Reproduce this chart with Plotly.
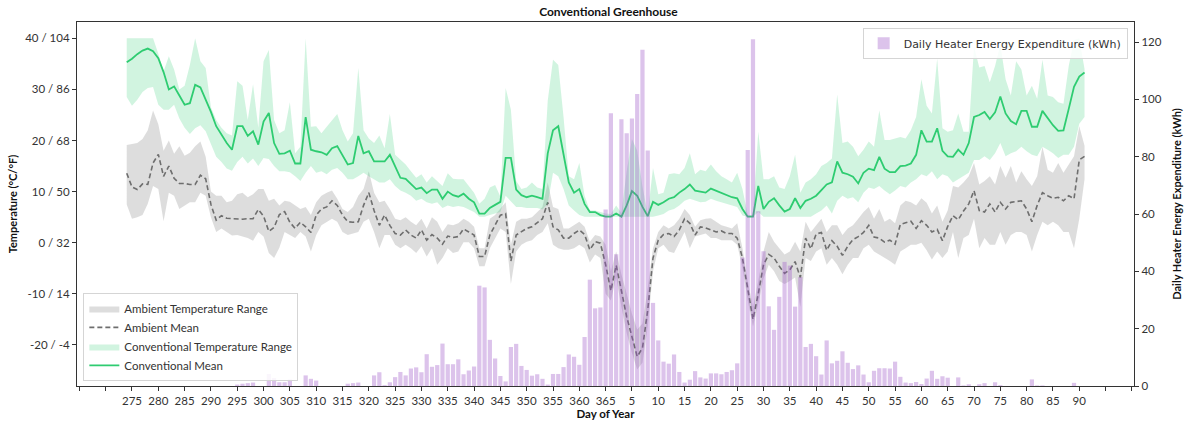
import plotly.graph_objects as go

# Day-of-year sequence (Oct 1 .. Apr 1)
days = list(range(274, 366)) + list(range(1, 92))

conv_mean = [
    35.3, 36.0, 36.9, 37.6, 38.0, 37.5, 36.1, 33.4, 30.0, 30.6,
    28.8, 27.0, 27.3, 30.9, 30.4, 28.1, 25.6, 22.8, 21.1, 19.5,
    18.2, 22.8, 22.8, 20.9, 21.8, 19.2, 23.7, 25.4, 19.5, 17.4,
    17.5, 18.0, 15.5, 15.5, 24.6, 18.2, 17.9, 17.7, 17.2, 18.5,
    18.9, 17.2, 15.3, 15.6, 20.9, 17.5, 17.9, 15.9, 15.9, 15.9,
    17.2, 15.0, 12.7, 12.5, 11.4, 10.5, 10.8, 9.7, 10.4, 10.4,
    8.6, 10.0, 9.3, 9.0, 9.6, 8.6, 7.9, 5.7, 5.7, 6.8,
    7.4, 8.0, 16.6, 16.6, 10.4, 9.3, 8.9, 9.2, 8.9, 8.6,
    17.5, 22.0, 22.8, 17.5, 11.8, 9.8, 10.5, 7.6, 6.0, 6.0,
    5.4, 5.1, 5.1, 5.7, 5.1, 7.3, 10.1, 9.2, 7.0, 5.2,
    8.0, 7.4, 7.9, 8.6, 8.9, 9.8, 10.5, 11.4, 10.2, 10.0,
    9.8, 10.6, 10.2, 9.8, 9.3, 8.9, 8.7, 6.6, 5.1, 5.1,
    11.1, 6.6, 8.0, 8.7, 7.3, 6.1, 6.6, 8.7, 6.8, 8.2,
    8.6, 9.2, 10.3, 11.4, 11.8, 15.9, 13.7, 13.4, 12.9, 11.6,
    13.7, 14.5, 14.2, 16.8, 14.5, 13.8, 13.8, 15.0, 15.1, 15.5,
    17.2, 22.0, 19.8, 19.8, 22.4, 18.0, 16.9, 16.8, 18.2, 17.2,
    19.5, 24.6, 25.0, 25.6, 24.2, 25.5, 28.6, 25.3, 23.8, 23.2,
    25.8, 25.8, 22.7, 22.7, 25.8, 24.3, 23.0, 21.9, 22.0, 26.2,
    30.5, 32.5, 33.3,
]

conv_max = [
    40, 40, 40, 40, 40, 40, 37.0, 33.5, 36.5, 33.9,
    30.0, 30.7, 34.8, 40, 35.5, 34.2, 26.5, 24.0, 22.5, 21.4,
    21.0, 31.6, 30.7, 24.0, 31.0, 22.5, 35.5, 37.7, 24.0, 21.4,
    22.0, 27.5, 17.5, 18.8, 40, 22.7, 22.8, 21.4, 22.7, 23.9,
    25.2, 22.0, 19.8, 21.4, 34.2, 22.0, 20.4, 19.5, 21.0, 18.5,
    25.2, 17.2, 16.2, 15.3, 14.0, 12.7, 13.4, 11.8, 13.0, 12.1,
    11.1, 13.6, 12.5, 12.4, 12.4, 11.1, 9.8, 7.6, 8.6, 10.8,
    11.3, 9.0, 30.3, 26.0, 12.1, 10.5, 10.8, 11.8, 10.8, 10.5,
    27.8, 35.8, 34.8, 24.6, 13.0, 12.4, 15.6, 9.2, 6.3, 6.3,
    6.0, 5.7, 5.6, 7.3, 5.8, 14.0, 20.3, 18.0, 11.0, 5.6,
    14.6, 9.5, 9.8, 13.4, 13.6, 13.4, 14.6, 17.5, 13.4, 14.3,
    14.0, 15.3, 14.0, 13.0, 12.4, 11.8, 13.7, 10.5, 5.4, 5.4,
    21.7, 12.4, 12.4, 13.0, 10.8, 10.5, 13.0, 17.2, 9.8, 11.8,
    12.4, 13.4, 15.0, 15.6, 16.5, 29.0, 19.5, 19.8, 18.8, 16.9,
    18.2, 19.8, 18.8, 25.9, 20.1, 20.1, 20.4, 20.7, 20.4, 22.0,
    24.6, 32.0, 26.8, 25.3, 36.0, 22.4, 21.7, 22.0, 25.3, 21.7,
    21.7, 38.4, 34.3, 34.6, 31.4, 34.6, 38.8, 32.0, 28.8, 35.5,
    33.9, 28.8, 30.7, 28.2, 35.8, 28.8, 28.5, 27.5, 27.2, 34.6,
    39.7, 40, 34.0,
]

conv_min = [
    28.5, 26.8, 28.0, 29.5, 30.3, 30.5, 27.0, 26.0, 26.0, 27.0,
    24.3, 22.5, 21.3, 22.4, 23.0, 21.8, 19.3, 16.8, 15.8, 14.5,
    14.1, 15.8, 16.8, 15.5, 16.5, 15.0, 16.6, 16.4, 15.0, 14.0,
    14.0, 13.8, 13.0, 12.1, 13.7, 15.0, 13.7, 14.0, 13.4, 14.3,
    14.6, 13.7, 12.4, 12.4, 13.0, 13.7, 13.0, 12.4, 11.8, 11.8,
    12.4, 11.1, 10.2, 9.8, 9.2, 8.2, 8.6, 7.9, 7.6, 7.9,
    6.8, 7.3, 7.0, 7.2, 7.0, 6.5, 6.0, 5.1, 5.1, 5.4,
    5.7, 6.0, 9.2, 8.2, 7.0, 7.0, 6.8, 6.8, 6.8, 6.5,
    7.6, 13.7, 13.0, 10.5, 7.3, 6.3, 5.4, 5.1, 5.1, 5.1,
    5.1, 5.1, 5.1, 5.1, 5.1, 5.1, 5.1, 5.1, 5.1, 5.1,
    5.1, 5.3, 5.6, 6.3, 6.6, 7.3, 8.2, 8.6, 8.2, 7.9,
    8.0, 8.6, 8.2, 7.9, 7.6, 7.3, 7.0, 5.3, 5.1, 5.1,
    6.0, 5.1, 5.1, 5.1, 5.1, 5.1, 5.1, 5.1, 5.1, 5.1,
    5.1, 5.7, 6.3, 7.3, 5.7, 8.2, 9.2, 8.6, 8.9, 7.9,
    9.8, 10.8, 10.5, 11.1, 10.2, 9.5, 10.2, 11.1, 10.8, 11.8,
    12.4, 13.4, 13.0, 14.0, 12.4, 13.4, 13.0, 11.8, 12.4, 13.0,
    13.7, 16.2, 16.2, 16.9, 16.2, 17.5, 19.5, 16.9, 17.5, 17.9,
    18.8, 17.9, 17.2, 16.9, 18.8, 18.2, 17.5, 16.6, 17.2, 17.2,
    18.8, 23.3, 24.6,
]

amb_mean = [
    13.6, 10.9, 10.4, 11.5, 11.4, 15.6, 17.3, 13.0, 15.0, 12.6,
    11.6, 11.6, 11.4, 11.4, 13.2, 12.5, 7.5, 4.4, 5.3, 4.8,
    4.7, 4.6, 4.6, 4.7, 4.7, 6.5, 5.2, 2.2, 3.0, 5.5,
    6.1, 4.0, 2.8, 4.0, 3.1, 2.0, 5.4, 6.6, 7.0, 8.2,
    7.3, 5.4, 4.1, 4.0, 4.1, 7.3, 9.8, 6.3, 3.4, 5.4,
    3.4, 1.8, 1.5, 2.5, 1.5, 0.9, 2.5, 0.5, 1.6, 0.9,
    -0.3, 1.3, 1.0, 1.2, 2.7, 2.1, 1.5, -2.7, -2.7, 1.5,
    3.4, 5.4, 5.7, -3.6, 1.5, 2.1, 2.8, 3.1, 3.9, 4.7,
    7.9, 3.1, 2.5, 0.9, 0.9, 1.8, 2.5, 1.6, -1.4, 0.2,
    -0.1, -4.3, -9.4, -4.4, -9.4, -14.5, -18.4, -22.3, -20.6, -13.2,
    -3.0, 0.5, 1.6, 1.8, 1.2, 2.5, 4.7, 3.8, 1.5, 3.1,
    2.9, 2.5, 2.1, 2.3, 1.8, 1.8, 0.9, -3.0, -9.4, -15.0,
    -10.0, -4.3, -2.3, -3.0, -4.6, -6.0, -5.3, -3.7, -6.8, 0.9,
    -1.2, 1.7, 2.0, -1.5, 0.4, -0.7, -2.5, -0.7, 0.6, 1.2,
    2.0, 3.4, 1.1, 0.9, 0.1, 0.5, -0.3, 3.6, 3.9, 4.2,
    2.8, 4.3, 3.4, 2.1, 2.6, 0.4, 3.2, 5.3, 4.5, 6.2,
    7.6, 10.2, 6.3, 6.0, 7.6, 6.0, 7.9, 6.6, 7.9, 8.0,
    8.2, 6.6, 4.1, 7.3, 9.8, 9.2, 8.7, 8.9, 8.2, 9.2,
    8.6, 16.2, 16.9,
]

amb_max = [
    19.1, 19.3, 19.5, 20.3, 22.0, 25.9, 23.2, 18.0, 20.0, 17.4,
    18.9, 17.0, 17.6, 18.9, 19.8, 16.8, 10.0, 9.2, 9.2, 7.9,
    8.2, 9.5, 9.8, 8.9, 9.5, 10.5, 10.5, 8.2, 8.6, 7.3,
    8.2, 8.0, 7.3, 6.6, 7.0, 5.4, 7.9, 9.2, 9.8, 10.2,
    8.6, 6.6, 6.0, 7.0, 9.2, 10.5, 14.0, 9.8, 7.9, 8.2,
    6.6, 4.7, 4.4, 5.0, 4.1, 3.4, 4.7, 2.8, 5.0, 4.1,
    2.1, 3.6, 3.4, 3.8, 4.7, 4.1, 3.1, -1.1, -1.1, 4.7,
    5.4, 6.6, 7.9, -0.4, 4.1, 4.7, 4.7, 5.0, 6.0, 7.0,
    11.8, 7.0, 6.6, 2.8, 2.8, 3.4, 4.1, 3.1, 0.2, 1.5,
    1.2, -0.4, -5.6, -1.7, -6.2, -10.0, -13.9, -17.0, -15.8, -8.8,
    -1.1, 2.1, 3.4, 2.8, 3.4, 4.7, 6.6, 5.4, 3.1, 4.4,
    4.7, 4.8, 4.1, 3.4, 3.1, 2.8, 3.8, -1.1, -7.5, -12.6,
    -7.5, -1.7, 2.1, 0.2, -1.1, -2.3, -1.7, 0.2, -1.7, 4.1,
    2.1, 3.4, 4.7, 2.1, 3.4, 3.4, 1.5, 2.8, 3.4, 4.7,
    6.0, 7.0, 4.7, 6.6, 4.1, 4.7, 3.8, 7.3, 8.2, 7.9,
    7.3, 8.7, 7.8, 5.7, 7.3, 4.1, 6.3, 11.1, 10.8, 11.8,
    13.0, 15.6, 11.4, 12.1, 13.0, 11.4, 15.0, 12.7, 15.0, 11.8,
    14.0, 12.4, 11.1, 13.0, 18.8, 14.3, 13.7, 15.6, 13.7, 15.3,
    16.9, 22.8, 19.0,
]

amb_min = [
    7.5, 4.7, 5.0, 5.4, 7.6, 11.1, 10.5, 4.2, 9.8, 9.2,
    6.6, 7.3, 7.9, 7.9, 9.8, 9.2, 5.0, 2.1, 2.8, 2.1,
    1.4, 1.5, 1.2, 0.9, 0.4, 2.1, 1.2, -2.0, -3.0, -1.0,
    2.1, 1.5, 0.9, 2.1, 1.2, -1.7, 1.5, 3.4, 4.1, 4.7,
    4.1, 2.1, 1.5, 1.8, 2.1, 4.1, 4.7, 2.1, -1.1, 1.5,
    1.5, -0.4, -1.1, -0.4, -1.1, -2.0, -0.7, -2.7, -1.1, -4.3,
    -3.0, -1.1, -2.0, -1.7, 0.1, 0.1, -1.1, -4.6, -4.6, -1.1,
    0.9, 2.8, 2.1, -8.1, -1.7, -0.4, 0.2, 0.5, 1.5, 2.1,
    3.8, -0.4, -1.1, -1.4, -1.4, -1.1, -0.4, -1.1, -3.9, -2.3,
    -3.0, -10.0, -11.3, -6.8, -12.6, -17.7, -21.6, -24.8, -23.5, -16.4,
    -5.6, -1.1, -0.4, -1.7, -2.0, -0.1, 2.1, -1.1, 1.2, 1.5,
    1.8, 0.9, 0.9, 0.5, 0.5, 0.5, -0.4, -4.9, -11.3, -16.4,
    -12.0, -7.0, -4.3, -5.6, -7.5, -8.1, -7.5, -6.8, -12.6, -3.0,
    -3.6, -1.7, -1.1, -4.3, -3.0, -4.3, -6.2, -4.3, -3.0, -3.0,
    -1.1, -0.4, -1.7, -2.3, -3.0, -3.6, -4.3, -1.7, -1.1, -0.4,
    -0.4, 0.0, -1.5, -3.3, -1.7, -3.0, -1.7, 2.1, -3.0, 0.9,
    1.5, 4.7, -1.1, 0.9, -0.4, -0.4, 2.1, -0.4, 1.5, 2.1,
    2.1, 1.5, -1.7, 1.5, 4.1, 3.4, 4.1, 3.4, 2.1, 2.1,
    -1.1, 4.7, 12.4,
]

heater_kwh = [
    0, 0, 0, 0, 0, 0, 0, 0, 0, 0,
    0, 0, 0, 0, 0, 0, 0, 0, 0, 0,
    0, 0.5, 0.8, 1.0, 1.2, 0, 0, 4.2, 2.8, 1.3,
    1.3, 2.3, 0, 0, 3.7, 2.5, 1.9, 0, 0, 0,
    0, 0, 0.8, 1.0, 1.2, 0, 0, 3.7, 4.8, 0.3,
    1.3, 3.1, 4.9, 3.7, 6.1, 6.5, 4.8, 11.1, 6.7, 7.3,
    14.8, 7.6, 7.6, 9.3, 4.1, 5.4, 6.8, 35.0, 34.4, 16.1,
    9.6, 3.5, 1.6, 13.6, 14.7, 7.0, 5.6, 3.6, 4.1, 2.5,
    0.5, 4.2, 4.2, 6.6, 11.0, 10.2, 7.4, 17.1, 37.1, 27.1,
    27.4, 61.6, 95.2, 46.0, 93.1, 88.2, 93.3, 101.9, 117.3, 82.2,
    29.0, 15.9, 8.5, 7.8, 11.0, 4.9, 1.2, 2.2, 5.2, 3.0,
    2.6, 4.4, 4.4, 4.1, 4.9, 5.5, 7.9, 44.8, 82.3, 121.0,
    61.0, 47.0, 27.8, 19.6, 31.1, 43.3, 42.0, 27.7, 38.0, 13.6,
    14.7, 10.4, 4.0, 15.9, 7.9, 8.8, 12.1, 8.1, 5.9, 7.2,
    4.0, 1.3, 5.3, 6.2, 6.2, 6.1, 8.5, 3.2, 1.2, 1.0,
    1.4, 0.7, 2.6, 5.3, 2.5, 3.4, 2.9, 0, 3.0, 0.2,
    0.6, 0, 0.6, 1.0, 0, 1.3, 0.3, 0, 0, 0,
    0, 0, 2.3, 0.2, 0.2, 0, 0, 0, 0, 0,
    1.1, 0, 0,
]

temp_ticks_c = [-20, -10, 0, 10, 20, 30, 40]
kwh_ticks = [0, 20, 40, 60, 80, 100, 120]

# continuous season axis: Jan-Mar days placed after day 365
x = [d if d >= 274 else d + 365 for d in days]
tick_pos = list(range(265, 470, 5))
tick_text = ['' if (p < 274 or p > 456) else str(p if p <= 365 else p - 365) for p in tick_pos]
temp_text = [f"{c} / {round(c * 9 / 5 + 32)}" for c in temp_ticks_c]

FONT = "Lato"
fig = go.Figure()

fig.add_trace(go.Scatter(x=x, y=amb_min, mode='lines', line=dict(width=0),
                         showlegend=False, hoverinfo='skip'))
fig.add_trace(go.Scatter(x=x, y=amb_max, mode='lines', line=dict(width=0),
                         fill='tonexty', fillcolor='rgba(128,128,128,0.27)',
                         name='Ambient Temperature Range'))
fig.add_trace(go.Scatter(x=x, y=amb_mean, mode='lines',
                         line=dict(color='#6e6e6e', width=1.6, dash='5px,3px'),
                         name='Ambient Mean'))
fig.add_trace(go.Scatter(x=x, y=conv_min, mode='lines', line=dict(width=0),
                         showlegend=False, hoverinfo='skip'))
fig.add_trace(go.Scatter(x=x, y=conv_max, mode='lines', line=dict(width=0),
                         fill='tonexty', fillcolor='rgba(46,204,113,0.22)',
                         name='Conventional Temperature Range'))
fig.add_trace(go.Scatter(x=x, y=conv_mean, mode='lines',
                         line=dict(color='#2ecc71', width=1.8),
                         name='Conventional Mean'))
fig.add_trace(go.Bar(x=x, y=heater_kwh, yaxis='y2', width=0.8,
                     marker=dict(color='rgba(155,84,198,0.35)', line=dict(width=0)),
                     name='Daily Heater Energy Expenditure (kWh)', legend='legend2'))

axis_line = '#333333'
fig.update_layout(
    width=1193, height=430,
    margin=dict(l=77, r=54, t=22, b=38),
    plot_bgcolor='white', paper_bgcolor='white',
    font=dict(family=FONT, size=12, color='#333333'),
    title=dict(text='<b>Conventional Greenhouse</b>', x=0.51, xanchor='center',
               y=0.972, yanchor='middle', yref='container',
               font=dict(family=FONT, size=12, color='#111111')),
    bargap=0.2,
    xaxis=dict(range=[264.55, 465.4], tickmode='array', tickvals=tick_pos, ticktext=tick_text,
               ticks='outside', ticklen=4, tickcolor=axis_line, showgrid=False, zeroline=False,
               showline=True, linecolor=axis_line, linewidth=1.2, mirror=True,
               tickfont=dict(family=FONT, size=11.5, color='#333333'),
               title=dict(text='<b>Day of Year</b>', standoff=3,
                          font=dict(family=FONT, size=11.5, color='#111111'))),
    yaxis=dict(range=[-28.05, 43.2], tickmode='array', tickvals=temp_ticks_c, ticktext=temp_text,
               ticks='outside', ticklen=4, tickcolor=axis_line, showgrid=False, zeroline=False,
               showline=True, linecolor=axis_line, linewidth=1.2,
               tickfont=dict(family=FONT, size=11.5, color='#333333'),
               title=dict(text='<b>Temperature (°C/°F)</b>', standoff=5,
                          font=dict(family=FONT, size=11, color='#111111'))),
    yaxis2=dict(range=[0, 127], overlaying='y', side='right', tickmode='array', tickvals=kwh_ticks,
                ticks='outside', ticklen=4, tickcolor=axis_line, showgrid=False, zeroline=False,
                showline=True, linecolor=axis_line, linewidth=1.2,
                tickfont=dict(family=FONT, size=11.5, color='#333333'),
                title=dict(text='<b>Daily Heater Energy Expenditure (kWh)</b>', standoff=12,
                           font=dict(family=FONT, size=11, color='#111111'))),
    legend=dict(x=0.006, y=0.014, xanchor='left', yanchor='bottom', traceorder='normal',
                bgcolor='rgba(255,255,255,0.85)', bordercolor='#d5d5d5', borderwidth=1,
                font=dict(family=FONT, size=11.5, color='#333333'), itemwidth=30,
                tracegroupgap=0),
    legend2=dict(x=0.994, y=0.984, xanchor='right', yanchor='top', traceorder='normal',
                 bgcolor='rgba(255,255,255,0.85)', bordercolor='#d5d5d5', borderwidth=1,
                 font=dict(family='DejaVu Sans', size=11, color='#333333'), itemwidth=30),
)

fig.write_html("out.html")
